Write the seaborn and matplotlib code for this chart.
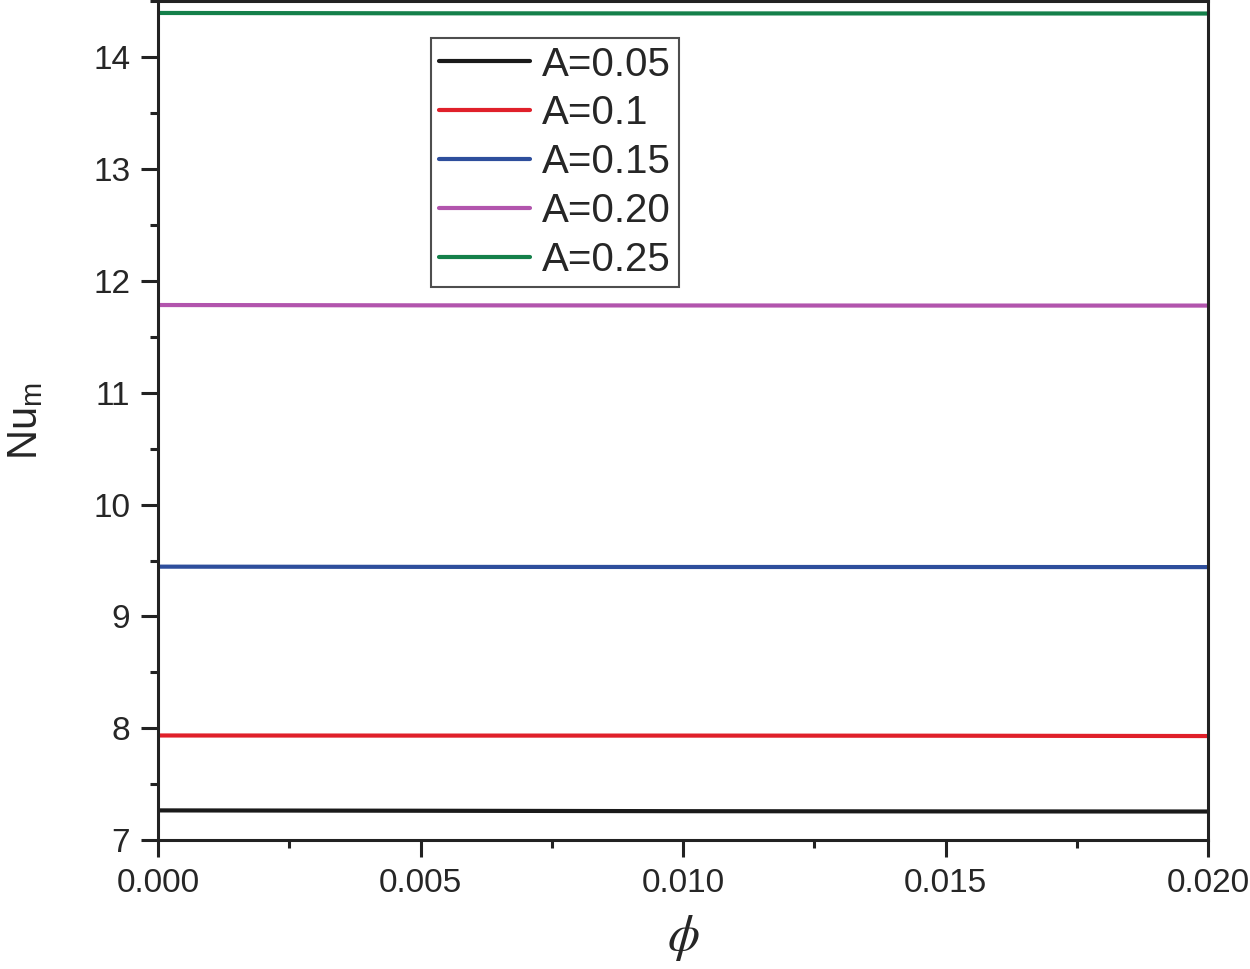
import matplotlib
matplotlib.use("Agg")
from matplotlib import pyplot as plt
from matplotlib.ticker import MultipleLocator
import pandas as pd
import seaborn as sns

phi = [0.0, 0.005, 0.010, 0.015, 0.020]
nu_a005 = [7.265, 7.262, 7.258, 7.256, 7.255]
nu_a010 = [7.935, 7.934, 7.934, 7.933, 7.930]
nu_a015 = [9.445, 9.443, 9.442, 9.442, 9.441]
nu_a020 = [11.785, 11.782, 11.781, 11.780, 11.780]
nu_a025 = [14.397, 14.394, 14.393, 14.393, 14.392]
labels = ['A=0.05', 'A=0.1', 'A=0.15', 'A=0.20', 'A=0.25']
colors = ['#1a1a1a', '#e0202a', '#2e4e9c', '#b255ad', '#14804a']

sns.set_style("ticks")
plt.rcParams['font.family'] = ['Liberation Sans', 'DejaVu Sans']
plt.rcParams['mathtext.fontset'] = 'stix'

df = pd.DataFrame({'phi': phi * 5,
                   'Nu': nu_a005 + nu_a010 + nu_a015 + nu_a020 + nu_a025,
                   'case': sum([[l] * len(phi) for l in labels], [])})

f, ax = plt.subplots(figsize=(12.5, 9.69), dpi=100)
f.subplots_adjust(left=0.1264, right=0.9664, top=0.9985, bottom=0.1331)
sns.lineplot(data=df, x='phi', y='Nu', hue='case', palette=colors,
             hue_order=labels, linewidth=3, ax=ax)

ax.set_xlim(0, 0.02)
ax.set_ylim(7, 14.5)
ax.xaxis.set_major_locator(MultipleLocator(0.005))
ax.xaxis.set_minor_locator(MultipleLocator(0.0025))
ax.yaxis.set_major_locator(MultipleLocator(1))
ax.yaxis.set_minor_locator(MultipleLocator(0.5))
ax.set_xticklabels([f'{v:.3f}' for v in ax.get_xticks()])
ax.tick_params(which='major', length=12, width=2.2, labelsize=24, pad=8, color='#222222')
ax.tick_params(which='minor', length=6, width=2.2, color='#222222')
for s in ax.spines.values():
    s.set_linewidth(2.2)
    s.set_color('#222222')
    s.set_visible(True)

ax.set_xlabel(r'$\phi$', fontsize=37, labelpad=10)
ax.set_ylabel(r'Nu$_\mathregular{m}$', fontsize=30, labelpad=34)

leg = ax.legend(loc='upper left', bbox_to_anchor=(0.260, 0.957), fontsize=29,
                frameon=True, fancybox=False, edgecolor='#222222',
                handlelength=2.25, handletextpad=0.3, borderpad=0.2,
                labelspacing=0.27, borderaxespad=0)
leg.get_frame().set_linewidth(1.5)
for line in leg.get_lines():
    line.set_linewidth(3)

plt.savefig('out.png', dpi=100)
